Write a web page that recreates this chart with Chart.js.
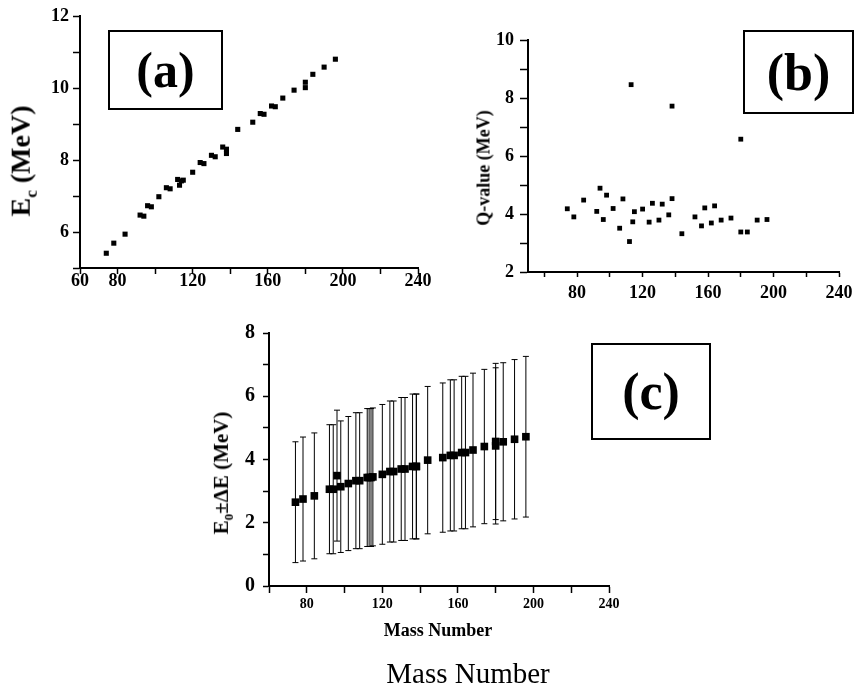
<!DOCTYPE html>
<html>
<head>
<meta charset="utf-8">
<script src="https://cdn.jsdelivr.net/npm/chart.js@4.4.0/dist/chart.umd.min.js"></script>
<style>
  body { margin: 0; background: #fff; }
  #page { position: relative; width: 854px; height: 691px; overflow: hidden; font-family: "Liberation Serif", "Times New Roman", serif; }
  .panel { position: absolute; }
  .ytitle { position: absolute; white-space: nowrap; font-weight: bold; transform: translate(-50%, -50%) rotate(-90deg); }
  .tag { position: absolute; border: 2px solid #000; box-sizing: border-box; font-weight: bold; display: flex; align-items: center; justify-content: center; }
  .xtitle { position: absolute; white-space: nowrap; transform: translate(-50%, -50%); }
</style>
</head>
<body>
<div id="page">
  <div class="panel" style="left:0;top:0;width:440px;height:300px"><canvas id="chartA"></canvas></div>
  <div class="panel" style="left:440px;top:0;width:414px;height:310px"><canvas id="chartB"></canvas></div>
  <div class="panel" style="left:190px;top:320px;width:440px;height:300px"><canvas id="chartC"></canvas></div>

  <div class="ytitle" style="left:23px;top:161px;font-size:28px">E<sub style="font-size:17px">c</sub> (MeV)</div>
  <div class="ytitle" style="left:484px;top:168px;font-size:18px">Q-value (MeV)</div>
  <div class="ytitle" style="left:223px;top:473px;font-size:21px">E<sub style="font-size:13px">0</sub>±ΔE (MeV)</div>

  <div class="tag" style="left:108px;top:30px;width:115px;height:80px;font-size:50px">(a)</div>
  <div class="tag" style="left:743px;top:30px;width:111px;height:84px;font-size:52px">(b)</div>
  <div class="tag" style="left:591px;top:343px;width:120px;height:97px;font-size:52px">(c)</div>

  <div class="xtitle" style="left:438px;top:630px;font-size:18px;font-weight:bold">Mass Number</div>
  <div class="xtitle" style="left:468px;top:673px;font-size:29px">Mass Number</div>
</div>

<script>
// data
const massNumbers = [74, 78, 84, 92, 94, 96, 98, 102, 106, 108, 112, 113, 114, 115, 120, 124, 126, 130, 132, 136, 138, 138, 144, 152, 156, 158, 162, 164, 168, 174, 180, 180, 184, 190, 196];
const coulombEnergy = [5.41, 5.69, 5.94, 6.47, 6.44, 6.73, 6.70, 6.98, 7.23, 7.20, 7.46, 7.30, 7.42, 7.44, 7.66, 7.93, 7.90, 8.13, 8.09, 8.36, 8.30, 8.18, 8.85, 9.05, 9.29, 9.27, 9.50, 9.48, 9.72, 9.94, 10.16, 10.01, 10.38, 10.58, 10.80];
const qValues = [4.18, 3.90, 4.48, 4.09, 4.89, 3.81, 4.65, 4.19, 3.51, 4.52, 3.05, 8.46, 3.73, 4.08, 4.17, 3.72, 4.37, 3.79, 4.34, 3.97, 7.72, 4.53, 3.32, 3.90, 3.59, 4.21, 3.69, 4.28, 3.79, 3.86, 6.58, 3.38, 3.38, 3.79, 3.81];
const e0Values = [2.65, 2.75, 2.85, 3.06, 3.06, 3.49, 3.14, 3.24, 3.33, 3.33, 3.43, 3.43, 3.43, 3.45, 3.53, 3.62, 3.62, 3.70, 3.70, 3.78, 3.78, 3.78, 3.98, 4.06, 4.13, 4.13, 4.22, 4.22, 4.30, 4.41, 4.57, 4.43, 4.56, 4.64, 4.72];
const deltaE = [1.91, 1.96, 1.99, 2.04, 2.04, 2.07, 2.08, 2.12, 2.15, 2.15, 2.18, 2.18, 2.18, 2.18, 2.21, 2.23, 2.23, 2.26, 2.26, 2.29, 2.29, 2.29, 2.33, 2.36, 2.39, 2.39, 2.41, 2.41, 2.43, 2.44, 2.47, 2.47, 2.50, 2.52, 2.54];

// tick marks and which of them carry a label
const xTicksA = [60, 80, 100, 120, 140, 160, 180, 200, 220, 240];
const xLabelsA = [60, 80, 120, 160, 200, 240];
const yTicksA = [5, 6, 7, 8, 9, 10, 11, 12];
const yLabelsA = [6, 8, 10, 12];
const xTicksBC = [60, 80, 100, 120, 140, 160, 180, 200, 220, 240];
const xLabelsBC = [80, 120, 160, 200, 240];
const yTicksB = [2, 3, 4, 5, 6, 7, 8, 9, 10];
const yLabelsB = [2, 4, 6, 8, 10];
const yTicksC = [0, 1, 2, 3, 4, 5, 6, 7, 8];
const yLabelsC = [0, 2, 4, 6, 8];

const FONT = "'Liberation Serif', 'Times New Roman', serif";

// error bars drawn under the squares, from the scales
const errorBars = {
  id: 'errorBars',
  beforeDatasetsDraw(chart) {
    const ds = chart.data.datasets[0];
    if (!ds.errors) return;
    const ctx = chart.ctx;
    const x = chart.scales.x, y = chart.scales.y;
    ctx.save();
    ctx.strokeStyle = '#000';
    ctx.lineWidth = 1;
    ds.data.forEach((p, i) => {
      const px = x.getPixelForValue(p.x);
      const top = y.getPixelForValue(p.y + ds.errors[i]);
      const bot = y.getPixelForValue(p.y - ds.errors[i]);
      ctx.beginPath();
      ctx.moveTo(px, top); ctx.lineTo(px, bot);
      ctx.moveTo(px - 3, top); ctx.lineTo(px + 3, top);
      ctx.moveTo(px - 3, bot); ctx.lineTo(px + 3, bot);
      ctx.stroke();
    });
    ctx.restore();
  }
};

function axis(opts) {
  return {
    type: 'linear',
    min: opts.min,
    max: opts.max,
    afterBuildTicks: (scale) => { scale.ticks = opts.ticks.map(v => ({ value: v })); },
    afterFit: (scale) => {
      if (opts.isX) {
        scale.height = opts.size;
        scale.paddingLeft = 0; scale.paddingRight = 0;
      } else {
        scale.width = opts.size;
        scale.paddingTop = 0; scale.paddingBottom = 0;
      }
    },
    border: { display: true, color: '#000', width: 2 },
    grid: { drawOnChartArea: false, drawTicks: true, tickLength: opts.tickLength, tickWidth: 1.5, tickColor: '#000' },
    ticks: {
      autoSkip: false,
      maxRotation: 0,
      padding: opts.padding,
      color: '#000',
      font: { family: FONT, size: opts.fontSize, weight: 'bold' },
      callback: (v) => opts.labels.includes(v) ? String(v) : ''
    }
  };
}

function makeScatter(id, ys, errs, radius, pad, xAxis, yAxis) {
  const points = massNumbers.map((m, i) => ({ x: m, y: ys[i] }));
  return new Chart(document.getElementById(id), {
    type: 'scatter',
    data: {
      datasets: [{
        data: points,
        errors: errs,
        pointStyle: 'rect',
        pointRadius: radius,
        pointHoverRadius: radius,
        backgroundColor: '#000',
        borderColor: '#000',
        borderWidth: 0
      }]
    },
    options: {
      responsive: true,
      maintainAspectRatio: false,
      animation: false,
      layout: { padding: pad },
      plugins: { legend: { display: false }, tooltip: { enabled: false } },
      scales: { x: xAxis, y: yAxis }
    },
    plugins: [errorBars]
  });
}

// (a) Coulomb barrier
makeScatter('chartA', coulombEnergy, null, 3.6,
  { top: 16, right: 22, left: 0, bottom: 0 },
  axis({ isX: true, min: 60, max: 240, ticks: xTicksA, labels: xLabelsA, size: 32, tickLength: 6, padding: -3, fontSize: 18 }),
  axis({ isX: false, min: 5, max: 12, ticks: yTicksA, labels: yLabelsA, size: 80, tickLength: 7, padding: 4, fontSize: 18 })
);

// (b) Q-value
makeScatter('chartB', qValues, null, 3.4,
  { top: 40, right: 15, left: 0, bottom: 0 },
  axis({ isX: true, min: 50, max: 240, ticks: xTicksBC, labels: xLabelsBC, size: 38, tickLength: 5, padding: 6, fontSize: 18 }),
  axis({ isX: false, min: 2, max: 10, ticks: yTicksB, labels: yLabelsB, size: 88, tickLength: 8, padding: 6, fontSize: 18 })
);

// (c) E0 with error bars
makeScatter('chartC', e0Values, deltaE, 5.4,
  { top: 13, right: 21, left: 0, bottom: 0 },
  axis({ isX: true, min: 60, max: 240, ticks: xTicksBC, labels: xLabelsBC, size: 34, tickLength: 7, padding: 3, fontSize: 14 }),
  axis({ isX: false, min: 0, max: 8, ticks: yTicksC, labels: yLabelsC, size: 79, tickLength: 6, padding: 8, fontSize: 20 })
);
</script>
</body>
</html>
